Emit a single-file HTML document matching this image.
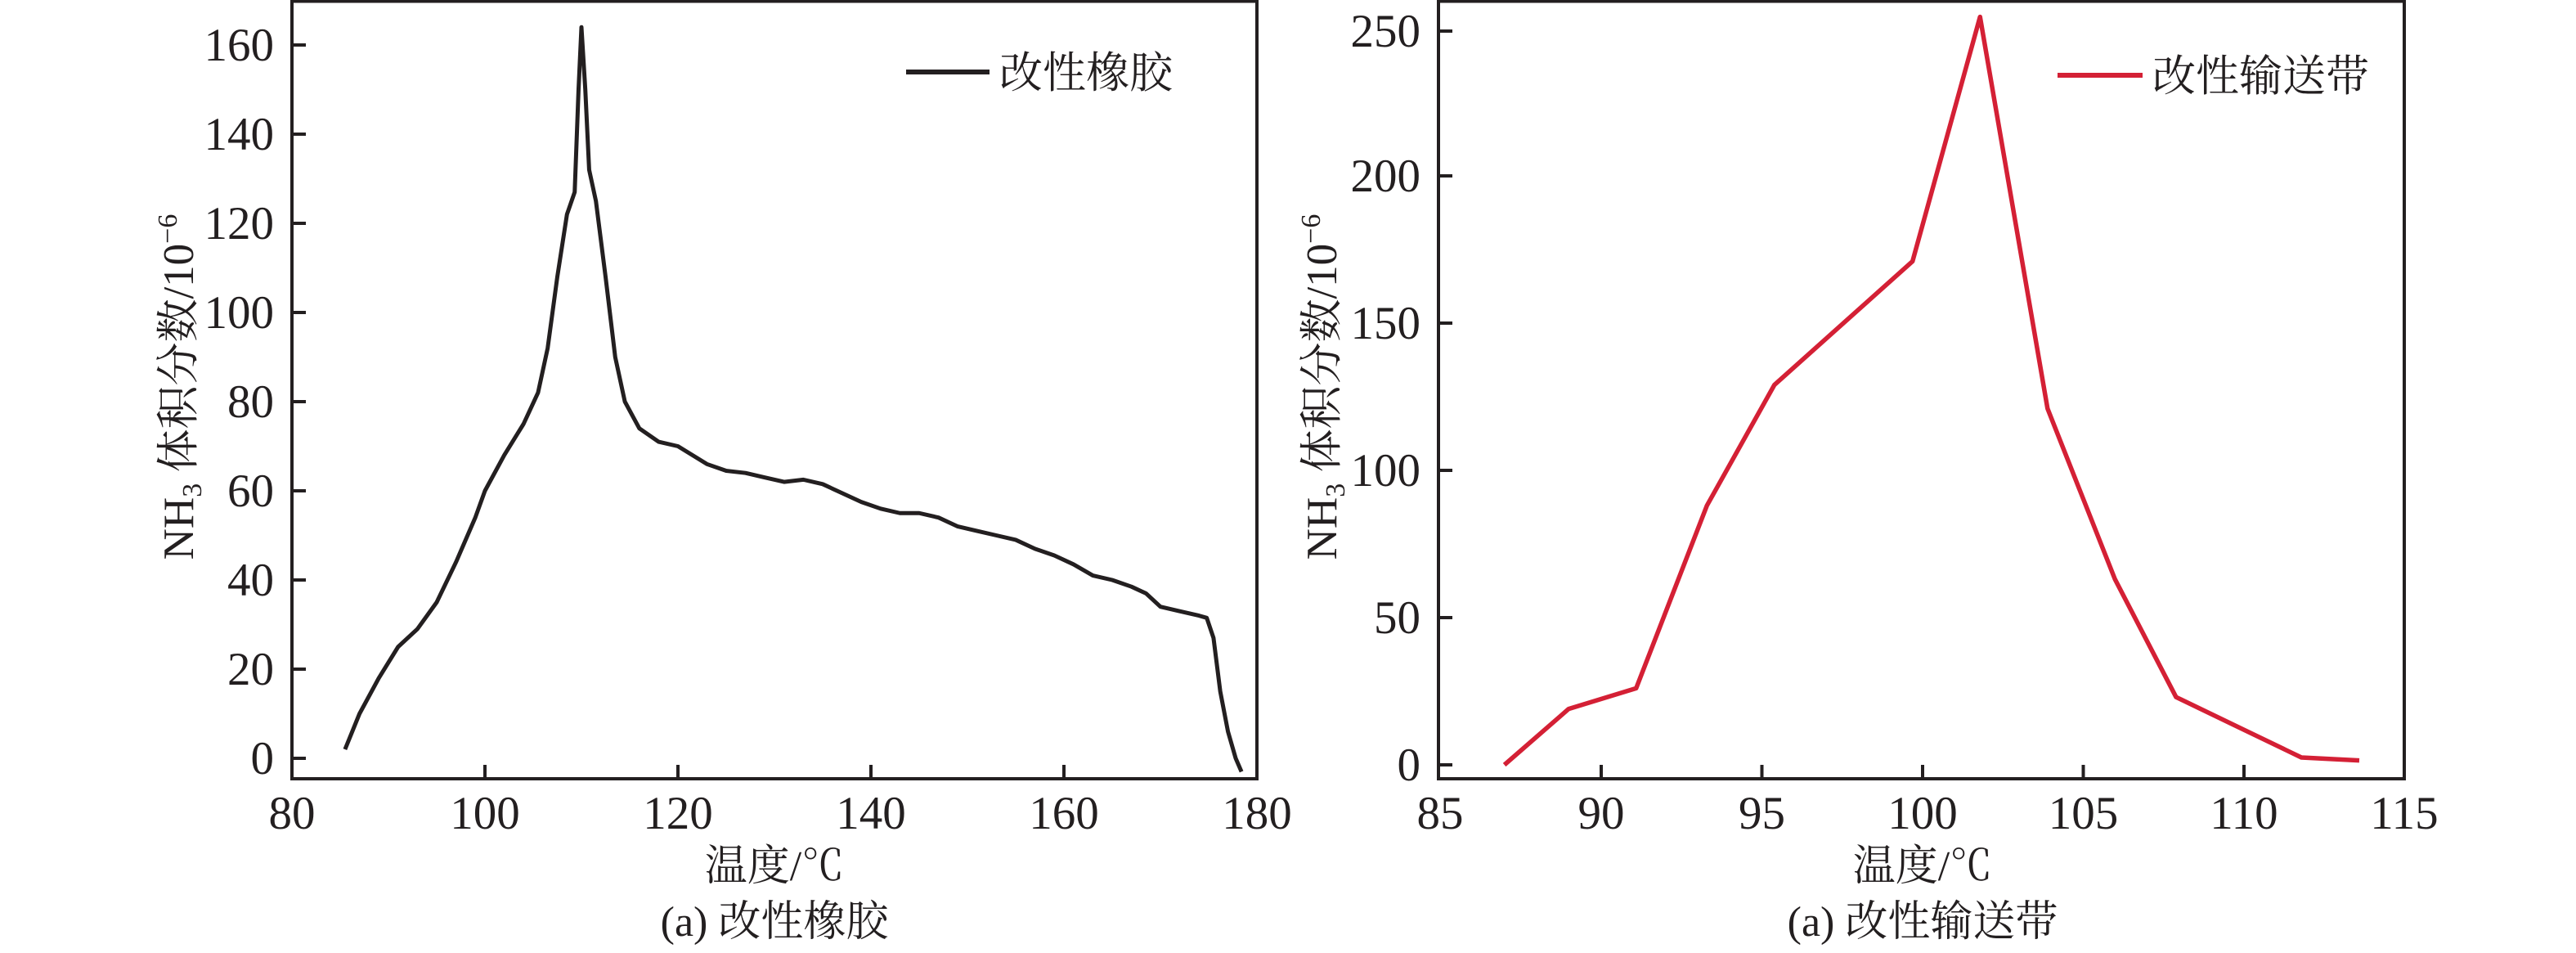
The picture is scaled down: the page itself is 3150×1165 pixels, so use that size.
<!DOCTYPE html>
<html><head><meta charset="utf-8"><style>
html,body{margin:0;padding:0;background:#fff}
svg{display:block}
text{font-family:"Liberation Serif","Noto Serif CJK SC","Noto Sans CJK SC",serif;fill:#231f20}
</style></head><body>
<svg width="3150" height="1165" viewBox="0 0 3150 1165" xmlns="http://www.w3.org/2000/svg">
<!-- LEFT CHART -->
<rect x="357" y="1.5" width="1180" height="950.5" fill="none" stroke="#231f20" stroke-width="4"/>
<g stroke="#231f20" stroke-width="4">
<line x1="593" y1="952" x2="593" y2="935"/><line x1="829" y1="952" x2="829" y2="935"/><line x1="1065" y1="952" x2="1065" y2="935"/><line x1="1301" y1="952" x2="1301" y2="935"/>
<line x1="357" y1="927" x2="374" y2="927"/><line x1="357" y1="818" x2="374" y2="818"/><line x1="357" y1="709" x2="374" y2="709"/><line x1="357" y1="600" x2="374" y2="600"/><line x1="357" y1="491" x2="374" y2="491"/><line x1="357" y1="382" x2="374" y2="382"/><line x1="357" y1="273" x2="374" y2="273"/><line x1="357" y1="164" x2="374" y2="164"/><line x1="357" y1="55" x2="374" y2="55"/>
</g>
<g font-size="57" text-anchor="middle">
<text x="357" y="1013">80</text><text x="593" y="1013">100</text><text x="829" y="1013">120</text><text x="1065" y="1013">140</text><text x="1301" y="1013">160</text><text x="1537" y="1013">180</text>
</g>
<g font-size="57" text-anchor="end">
<text x="335" y="946">0</text><text x="335" y="837">20</text><text x="335" y="728">40</text><text x="335" y="619">60</text><text x="335" y="510">80</text><text x="335" y="401">100</text><text x="335" y="292">120</text><text x="335" y="183">140</text><text x="335" y="74">160</text>
</g>
<g transform="matrix(11.8 0 0 -5.45 -587 927)">
<polyline fill="none" stroke="#231f20" stroke-width="5" vector-effect="non-scaling-stroke" stroke-linejoin="round" points="85.5,2 87,10 89,18 91,25 93,29 95,35 97,44 99,54 100,60 102,68 104,75 105.5,82 106.5,92 107.5,108 108.5,122 109.3,127 109.7,150 110,164 110.4,150 110.8,132 111.5,125 112.5,108 113.5,90 114.5,80 116,74 118,71 120,70 121.5,68 123,66 125,64.5 127,64 129,63 131,62 133,62.5 135,61.5 137,59.5 139,57.5 141,56 143,55 145,55 147,54 149,52 151,51 153,50 155,49 157,47 159,45.5 161,43.5 163,41 165,40 167,38.5 168.5,37 170,34 172,33 174,32 174.8,31.5 175.5,27 176.2,15 177,6 177.8,0 178.4,-3"/>
</g>
<line x1="1108" y1="88" x2="1210" y2="88" stroke="#231f20" stroke-width="6"/>
<text x="1222" y="107" font-size="53">改性橡胶</text>
<text x="947" y="1076" font-size="52" text-anchor="middle">温度/℃</text>
<text x="947" y="1144" font-size="52" text-anchor="middle">(a) 改性橡胶</text>
<text transform="translate(236,473) rotate(-90)" font-size="53" text-anchor="middle">NH<tspan font-size="34" dy="10">3</tspan><tspan dy="-10"> 体积分数/10</tspan><tspan font-size="34" dy="-20">−6</tspan></text>

<!-- RIGHT CHART -->
<rect x="1759" y="1.5" width="1181" height="950.5" fill="none" stroke="#231f20" stroke-width="4"/>
<g stroke="#231f20" stroke-width="4">
<line x1="1958" y1="952" x2="1958" y2="935"/><line x1="2154.5" y1="952" x2="2154.5" y2="935"/><line x1="2351" y1="952" x2="2351" y2="935"/><line x1="2547.5" y1="952" x2="2547.5" y2="935"/><line x1="2744" y1="952" x2="2744" y2="935"/>
<line x1="1759" y1="935" x2="1776" y2="935"/><line x1="1759" y1="755" x2="1776" y2="755"/><line x1="1759" y1="575" x2="1776" y2="575"/><line x1="1759" y1="395" x2="1776" y2="395"/><line x1="1759" y1="215" x2="1776" y2="215"/><line x1="1759" y1="38" x2="1776" y2="38"/>
</g>
<g font-size="57" text-anchor="middle">
<text x="1761" y="1013">85</text><text x="1958" y="1013">90</text><text x="2154.5" y="1013">95</text><text x="2351" y="1013">100</text><text x="2547.5" y="1013">105</text><text x="2744" y="1013">110</text><text x="2940" y="1013">115</text>
</g>
<g font-size="57" text-anchor="end">
<text x="1737" y="954">0</text><text x="1737" y="774">50</text><text x="1737" y="594">100</text><text x="1737" y="414">150</text><text x="1737" y="234">200</text><text x="1737" y="57">250</text>
</g>
<g transform="matrix(39.3 0 0 -3.6 -1579.5 935)">
<polyline fill="none" stroke="#d42035" stroke-width="5.5" vector-effect="non-scaling-stroke" stroke-linejoin="round" points="87,0 89,19 91.1,26 93.3,88 95.4,129 99.7,171 101.8,254 103.9,121 106,63 107.9,23 111.8,2.5 113.6,1.5"/>
</g>
<line x1="2516" y1="92" x2="2620" y2="92" stroke="#d42035" stroke-width="6"/>
<text x="2632" y="111" font-size="53">改性输送带</text>
<text x="2351" y="1076" font-size="52" text-anchor="middle">温度/℃</text>
<text x="2351" y="1144" font-size="52" text-anchor="middle">(a) 改性输送带</text>
<text transform="translate(1634,473) rotate(-90)" font-size="53" text-anchor="middle">NH<tspan font-size="34" dy="10">3</tspan><tspan dy="-10"> 体积分数/10</tspan><tspan font-size="34" dy="-20">−6</tspan></text>
</svg>
</body></html>
